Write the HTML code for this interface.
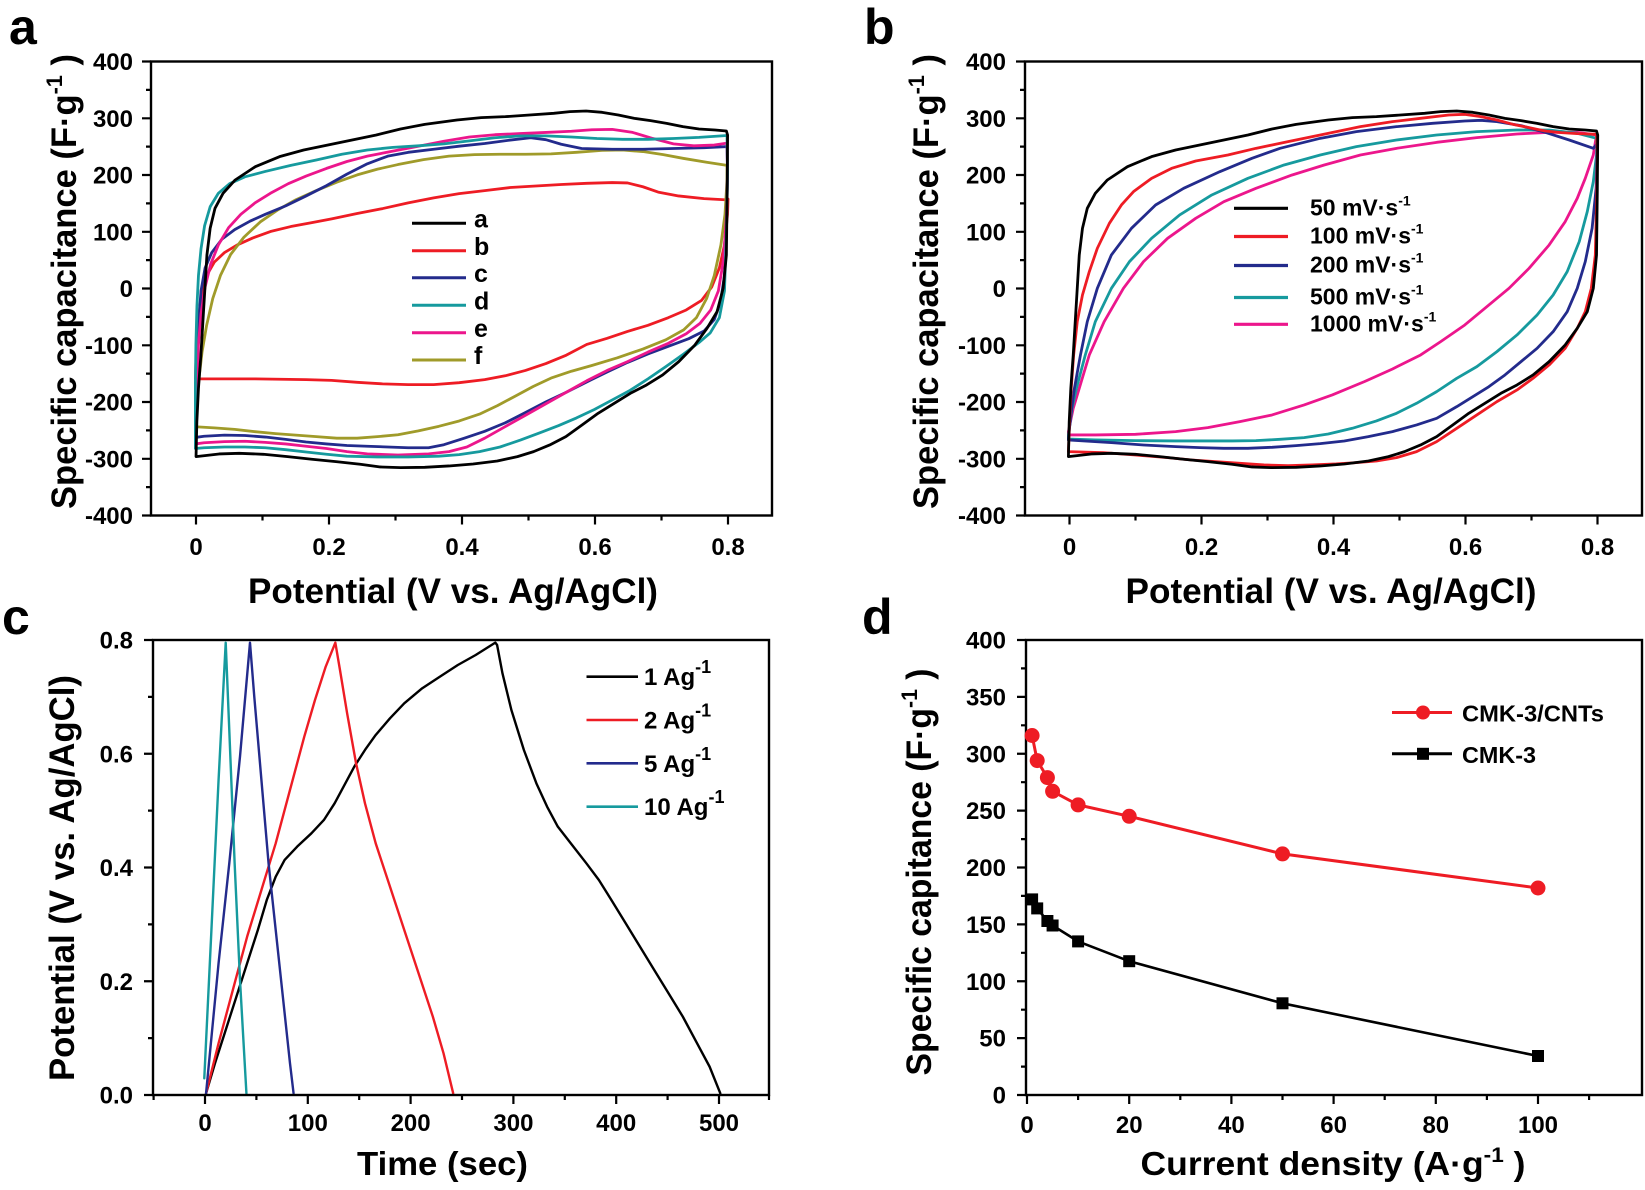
<!DOCTYPE html>
<html><head><meta charset="utf-8"><style>
html,body{margin:0;padding:0;background:#fff;}
svg{display:block;}
text{font-family:"Liberation Sans",Arial,sans-serif;font-weight:bold;fill:#000;}
.tk{font-size:24px;}
.ax{font-size:35px;}
.ax2{font-size:33px;}
.pl{font-size:50px;}
.c{fill:none;stroke-width:2.8;stroke-linejoin:round;stroke-linecap:round;vector-effect:non-scaling-stroke;}
.fr{fill:none;stroke:#000;stroke-width:2.4;}
.ti{fill:none;stroke:#000;stroke-width:2.2;}
</style></head><body>
<svg width="1645" height="1190" viewBox="0 0 1645 1190" xmlns="http://www.w3.org/2000/svg">
<rect width="1645" height="1190" fill="#fff"/>

<!-- ================= PANEL A ================= -->
<g transform="matrix(0.5102,0,0,0.3827,0,0)">
<path class="c" stroke="#ee1c24" d="M383,990 L385,900 L389,830 L395,770 L405,720 L420,685 L440,660 L465,640 L495,622 L530,605 L570,592 L610,582 L650,572 L700,558 L750,545 L800,530 L850,517 L900,506 L950,498 L1000,490 L1050,486 L1100,482 L1150,479 L1200,477 L1230,478 L1260,488 L1290,502 L1330,512 L1380,519 L1420,522 L1427,520 L1426,560 L1420,640 L1410,700 L1395,750 L1375,785 L1345,810 L1310,830 L1270,850 L1230,866 L1190,884 L1150,900 L1110,928 L1070,950 L1030,968 L990,982 L950,992 L900,1000 L850,1005 L800,1005 L750,1003 L700,999 L650,994 L600,992 L550,991 L500,990 L450,990 L400,990 L383,990 Z"/>
<path class="c" stroke="#a09b2a" d="M383,1115 L386,1050 L390,990 L396,920 L405,850 L417,780 L432,720 L452,665 L478,620 L510,580 L545,548 L580,522 L620,498 L660,476 L700,457 L740,442 L780,430 L830,417 L880,408 L930,404 L980,403 L1030,403 L1080,402 L1130,398 L1180,393 L1220,392 L1260,396 L1300,404 L1340,414 L1385,424 L1425,432 L1425,470 L1421,560 L1413,640 L1400,720 L1385,780 L1365,830 L1340,862 L1305,888 L1260,912 L1210,935 L1160,955 L1120,970 L1080,988 L1045,1010 L1010,1035 L975,1060 L940,1082 L900,1100 L860,1114 L820,1126 L780,1136 L740,1141 L700,1145 L660,1145 L620,1141 L580,1137 L540,1133 L500,1128 L460,1122 L420,1118 L383,1115 Z"/>
<path class="c" stroke="#232b8c" d="M383,1145 L384,1050 L386,950 L389,850 L394,760 L402,700 L415,660 L435,625 L460,600 L490,578 L520,560 L560,538 L600,512 L640,485 L680,455 L720,428 L760,408 L800,398 L850,390 L900,382 L950,375 L1000,366 L1040,360 L1070,365 L1100,377 L1140,388 L1200,390 L1260,390 L1320,388 L1380,386 L1425,383 L1426,450 L1424,600 L1420,720 L1412,790 L1400,835 L1380,865 L1350,885 L1310,905 L1270,925 L1230,947 L1190,972 L1150,998 L1110,1025 L1070,1050 L1030,1078 L990,1105 L950,1127 L910,1145 L870,1162 L840,1170 L800,1170 L760,1168 L720,1166 L680,1164 L640,1160 L600,1155 L560,1148 L520,1142 L480,1138 L440,1137 L400,1140 L383,1143 Z"/>
<path class="c" stroke="#ec168c" d="M383,1170 L384,1080 L386,990 L389,900 L394,820 L402,750 L413,690 L428,640 L448,595 L472,560 L500,530 L530,505 L565,480 L600,460 L640,440 L680,422 L720,408 L770,395 L820,382 L870,369 L920,358 L970,352 L1020,349 L1070,346 L1120,343 L1160,339 L1200,338 L1240,346 L1280,362 L1320,376 L1360,381 L1400,379 L1425,374 L1426,450 L1424,560 L1418,680 L1408,760 L1393,810 L1372,845 L1345,872 L1310,897 L1270,920 L1230,945 L1190,968 L1150,995 L1110,1025 L1070,1055 L1030,1085 L990,1115 L950,1145 L915,1168 L880,1180 L840,1186 L780,1189 L720,1186 L680,1180 L640,1172 L600,1166 L560,1160 L520,1156 L480,1153 L440,1154 L400,1157 L383,1160 Z"/>
<path class="c" stroke="#169a9e" d="M383,1000 L384,900 L386,800 L389,720 L394,650 L401,590 L412,540 L428,505 L450,480 L480,462 L520,448 L570,432 L620,418 L670,403 L720,392 L770,385 L820,381 L870,376 L920,368 L970,360 L1020,355 L1070,355 L1120,358 L1170,362 L1220,364 L1270,364 L1320,362 L1370,359 L1425,354 L1426,450 L1424,600 L1420,760 L1410,830 L1392,870 L1370,895 L1340,925 L1305,958 L1270,990 L1235,1020 L1200,1045 L1165,1070 L1130,1092 L1095,1112 L1060,1130 L1020,1150 L980,1168 L940,1180 L900,1188 L860,1192 L800,1194 L740,1194 L680,1192 L640,1187 L600,1181 L560,1175 L520,1170 L480,1168 L440,1168 L400,1170 L383,1172 Z"/>
</g>
<g transform="matrix(0.4033,0,0,0.3333,142.4,55)">
<path class="c" stroke="#000" d="M133,1205 L135,1100 L139,1000 L145,900 L150,800 L155,700 L160,600 L168,520 L180,460 L200,415 L230,375 L280,335 L340,305 L400,285 L460,270 L520,255 L580,240 L640,222 L700,208 L780,195 L840,188 L900,185 L960,180 L1020,175 L1060,170 L1100,168 L1140,172 L1180,180 L1220,190 L1260,197 L1300,205 L1340,215 L1380,222 L1420,225 L1448,228 L1451,240 L1450,400 L1448,600 L1440,700 L1425,770 L1400,820 L1370,870 L1330,920 L1290,960 L1250,990 L1210,1015 L1170,1045 L1130,1075 L1090,1110 L1050,1145 L1010,1170 L970,1190 L930,1205 L880,1218 L820,1227 L760,1233 L700,1237 L640,1238 L590,1236 L540,1228 L480,1220 L420,1213 L360,1205 L300,1198 L240,1195 L190,1197 L133,1205 Z"/>
</g>
<rect class="fr" x="151" y="61.5" width="621" height="454"/>
<path class="ti" d="M142,61.5H151M142,118.3H151M142,175H151M142,231.8H151M142,288.5H151M142,345.3H151M142,402H151M142,458.8H151M142,515.5H151M146,89.9H151M146,146.6H151M146,203.4H151M146,260.1H151M146,316.9H151M146,373.6H151M146,430.4H151M146,487.1H151M196,515.5V524.5M329,515.5V524.5M462,515.5V524.5M595,515.5V524.5M728,515.5V524.5M262.5,515.5V520.5M395.5,515.5V520.5M528.5,515.5V520.5M661.5,515.5V520.5"/>
<g class="tk" text-anchor="end">
<text x="133" y="70">400</text><text x="133" y="126.8">300</text><text x="133" y="183.5">200</text><text x="133" y="240.3">100</text><text x="133" y="297">0</text><text x="133" y="353.8">-100</text><text x="133" y="410.5">-200</text><text x="133" y="467.3">-300</text><text x="133" y="524">-400</text>
</g>
<g class="tk" text-anchor="middle">
<text x="196" y="555">0</text><text x="329" y="555">0.2</text><text x="462" y="555">0.4</text><text x="595" y="555">0.6</text><text x="728" y="555">0.8</text>
</g>
<text class="ax" x="453" y="603" text-anchor="middle" textLength="410" lengthAdjust="spacingAndGlyphs">Potential (V  vs. Ag/AgCl)</text>
<text class="ax" x="76" y="281.5" text-anchor="middle" transform="rotate(-90 76 281.5)" textLength="455" lengthAdjust="spacingAndGlyphs">Specific capacitance (F·g<tspan font-size="22" dy="-14">-1</tspan><tspan dy="14"> )</tspan></text>
<text class="pl" x="9" y="44">a</text>
<!-- legend a -->
<g stroke-width="3">
<line x1="412" y1="223.3" x2="466" y2="223.3" stroke="#000"/>
<line x1="412" y1="250.7" x2="466" y2="250.7" stroke="#ee1c24"/>
<line x1="412" y1="277.7" x2="466" y2="277.7" stroke="#232b8c"/>
<line x1="412" y1="305.3" x2="466" y2="305.3" stroke="#169a9e"/>
<line x1="412" y1="332.7" x2="466" y2="332.7" stroke="#ec168c"/>
<line x1="412" y1="360" x2="466" y2="360" stroke="#a09b2a"/>
</g>
<g font-size="25">
<text x="474" y="227.5">a</text><text x="474" y="255">b</text><text x="474" y="282">c</text><text x="474" y="309.5">d</text><text x="474" y="337">e</text><text x="474" y="364">f</text>
</g>

<!-- ================= PANEL B ================= -->
<g transform="matrix(0.4016,0,0,0.3333,1015,55)">
<path class="c" stroke="#ec168c" d="M133,1130 L145,1060 L160,1000 L185,900 L222,800 L270,700 L320,620 L380,550 L450,490 L520,440 L600,400 L690,360 L770,330 L860,300 L950,280 L1050,262 L1150,248 L1250,237 L1330,232 L1400,232 L1448,240 L1440,300 L1420,370 L1400,430 L1370,500 L1330,570 L1280,640 L1230,700 L1170,760 L1120,810 L1060,860 L1010,900 L940,942 L870,980 L790,1020 L720,1050 L640,1080 L560,1100 L480,1118 L400,1130 L300,1138 L200,1140 L133,1140 Z"/>
<path class="c" stroke="#169a9e" d="M133,1140 L142,1060 L153,1000 L175,900 L200,800 L240,700 L285,620 L340,550 L410,480 L490,420 L580,370 L670,330 L760,300 L850,275 L950,255 L1050,240 L1150,230 L1250,225 L1330,225 L1400,235 L1448,250 L1448,300 L1440,380 L1425,470 L1405,560 L1375,650 L1340,720 L1300,780 L1250,840 L1200,890 L1150,935 L1100,970 L1050,1010 L1000,1045 L950,1075 L900,1098 L840,1120 L780,1137 L720,1148 L660,1153 L600,1157 L540,1158 L480,1158 L400,1158 L300,1157 L200,1155 L133,1152 Z"/>
<path class="c" stroke="#232b8c" d="M133,1150 L140,1070 L148,1000 L163,900 L180,800 L205,700 L240,600 L290,520 L350,450 L420,400 L510,350 L590,310 L660,280 L760,250 L850,230 L950,215 L1040,205 L1120,198 L1160,196 L1200,200 L1260,212 L1320,232 L1380,255 L1440,280 L1450,265 L1447,400 L1437,520 L1420,620 L1400,700 L1375,770 L1340,830 L1300,880 L1260,920 L1220,960 L1180,995 L1140,1025 L1100,1055 L1050,1090 L1000,1110 L940,1130 L880,1145 L820,1158 L760,1166 L700,1172 L640,1177 L580,1180 L520,1180 L460,1178 L400,1175 L320,1170 L240,1163 L133,1155 Z"/>
<path class="c" stroke="#ee1c24" d="M133,1190 L136,1100 L140,1000 L146,900 L155,800 L168,720 L185,650 L205,580 L235,505 L265,450 L295,410 L340,370 L390,340 L450,318 L530,300 L600,280 L680,260 L760,240 L860,215 L940,200 L1010,190 L1080,180 L1120,178 L1160,185 L1200,195 L1240,208 L1280,218 L1320,228 L1360,233 L1400,236 L1448,238 L1450,300 L1448,450 L1445,600 L1435,700 L1420,770 L1400,820 L1370,880 L1330,930 L1290,970 L1250,1005 L1200,1040 L1150,1080 L1100,1120 L1050,1160 L1000,1190 L950,1208 L900,1218 L850,1223 L800,1227 L740,1230 L680,1232 L620,1230 L560,1225 L500,1220 L440,1215 L380,1208 L300,1200 L220,1193 L133,1190 Z"/>
<path class="c" stroke="#000" d="M133,1205 L135,1100 L139,1000 L145,900 L150,800 L155,700 L160,600 L168,520 L180,460 L200,415 L230,375 L280,335 L340,305 L400,285 L460,270 L520,255 L580,240 L640,222 L700,208 L780,195 L840,188 L900,185 L960,180 L1020,175 L1060,170 L1100,168 L1140,172 L1180,180 L1220,190 L1260,197 L1300,205 L1340,215 L1380,222 L1420,225 L1448,228 L1451,240 L1450,400 L1448,600 L1440,700 L1425,770 L1400,820 L1370,870 L1330,920 L1290,960 L1250,990 L1210,1015 L1170,1045 L1130,1075 L1090,1110 L1050,1145 L1010,1170 L970,1190 L930,1205 L880,1218 L820,1227 L760,1233 L700,1237 L640,1238 L590,1236 L540,1228 L480,1220 L420,1213 L360,1205 L300,1198 L240,1195 L190,1197 L133,1205 Z"/>
</g>
<rect class="fr" x="1025" y="61.5" width="617" height="454"/>
<path class="ti" d="M1016,61.5H1025M1016,118.3H1025M1016,175H1025M1016,231.8H1025M1016,288.5H1025M1016,345.3H1025M1016,402H1025M1016,458.8H1025M1016,515.5H1025M1020,89.9H1025M1020,146.6H1025M1020,203.4H1025M1020,260.1H1025M1020,316.9H1025M1020,373.6H1025M1020,430.4H1025M1020,487.1H1025M1069.5,515.5V524.5M1201.5,515.5V524.5M1333.5,515.5V524.5M1465.5,515.5V524.5M1597.5,515.5V524.5M1135.5,515.5V520.5M1267.5,515.5V520.5M1399.5,515.5V520.5M1531.5,515.5V520.5"/>
<g class="tk" text-anchor="end">
<text x="1006" y="70">400</text><text x="1006" y="126.8">300</text><text x="1006" y="183.5">200</text><text x="1006" y="240.3">100</text><text x="1006" y="297">0</text><text x="1006" y="353.8">-100</text><text x="1006" y="410.5">-200</text><text x="1006" y="467.3">-300</text><text x="1006" y="524">-400</text>
</g>
<g class="tk" text-anchor="middle">
<text x="1069.5" y="555">0</text><text x="1201.5" y="555">0.2</text><text x="1333.5" y="555">0.4</text><text x="1465.5" y="555">0.6</text><text x="1597.5" y="555">0.8</text>
</g>
<text class="ax" x="1331" y="603" text-anchor="middle" textLength="411" lengthAdjust="spacingAndGlyphs">Potential (V  vs. Ag/AgCl)</text>
<text class="ax" x="938" y="281.5" text-anchor="middle" transform="rotate(-90 938 281.5)" textLength="455" lengthAdjust="spacingAndGlyphs">Specific capacitance (F·g<tspan font-size="22" dy="-14">-1</tspan><tspan dy="14"> )</tspan></text>
<text class="pl" x="864" y="44">b</text>
<!-- legend b -->
<g stroke-width="3.2">
<line x1="1234" y1="208.3" x2="1288" y2="208.3" stroke="#000"/>
<line x1="1234" y1="236.5" x2="1288" y2="236.5" stroke="#ee1c24"/>
<line x1="1234" y1="265.5" x2="1288" y2="265.5" stroke="#232b8c"/>
<line x1="1234" y1="297.5" x2="1288" y2="297.5" stroke="#169a9e"/>
<line x1="1234" y1="324.3" x2="1288" y2="324.3" stroke="#ec168c"/>
</g>
<g font-size="23">
<text x="1310" y="215.3">50 mV·s<tspan font-size="14" dy="-10">-1</tspan></text>
<text x="1310" y="243.5">100 mV·s<tspan font-size="14" dy="-10">-1</tspan></text>
<text x="1310" y="272.5">200 mV·s<tspan font-size="14" dy="-10">-1</tspan></text>
<text x="1310" y="304.5">500 mV·s<tspan font-size="14" dy="-10">-1</tspan></text>
<text x="1310" y="331.3">1000 mV·s<tspan font-size="14" dy="-10">-1</tspan></text>
</g>

<!-- ================= PANEL C ================= -->
<g transform="matrix(0.3571,0,0,0.3333,190,630)">
<path class="c" style="stroke-width:2.4" stroke="#000" d="M45,1390 L70,1300 L100,1200 L130,1100 L160,1000 L190,900 L215,810 L240,740 L265,690 L300,650 L340,610 L375,570 L405,520 L430,470 L460,410 L490,360 L520,315 L560,265 L600,220 L650,175 L700,140 L750,105 L800,75 L855,38 L860,45 L875,130 L900,240 L935,360 L970,460 L1000,530 L1030,590 L1070,645 L1110,700 L1145,750 L1180,810 L1220,880 L1260,950 L1300,1020 L1340,1090 L1380,1160 L1420,1240 L1455,1310 L1485,1390"/>
<path class="c" style="stroke-width:2.4" stroke="#ee1c24" d="M45,1390 L80,1240 L120,1080 L160,920 L200,780 L240,640 L280,480 L320,320 L350,210 L380,110 L407,38 L420,120 L440,250 L465,400 L490,520 L520,640 L560,770 L600,900 L640,1030 L680,1160 L710,1270 L737,1390"/>
<path class="c" style="stroke-width:2.4" stroke="#232b8c" d="M45,1390 L80,1000 L110,700 L140,380 L168,38 L180,200 L200,450 L220,700 L240,900 L260,1100 L280,1300 L290,1390"/>
<path class="c" style="stroke-width:2.4" stroke="#169a9e" d="M40,1345 L60,900 L80,450 L100,38 L110,300 L125,700 L140,1050 L158,1390"/>
</g>
<rect class="fr" x="153" y="640" width="616" height="455"/>
<path class="ti" d="M144,1095H153M144,981.25H153M144,867.5H153M144,753.75H153M144,640H153M148,1038.1H153M148,924.4H153M148,810.6H153M148,696.9H153M205,1095V1104M307.8,1095V1104M410.6,1095V1104M513.4,1095V1104M616.2,1095V1104M719,1095V1104M153.6,1095V1100M256.4,1095V1100M359.2,1095V1100M462,1095V1100M564.8,1095V1100M667.6,1095V1100M769,1095V1100"/>
<g class="tk" text-anchor="end">
<text x="133" y="648.5">0.8</text><text x="133" y="762.25">0.6</text><text x="133" y="876">0.4</text><text x="133" y="989.75">0.2</text><text x="133" y="1103.5">0.0</text>
</g>
<g class="tk" text-anchor="middle">
<text x="205" y="1131">0</text><text x="307.8" y="1131">100</text><text x="410.6" y="1131">200</text><text x="513.4" y="1131">300</text><text x="616.2" y="1131">400</text><text x="719" y="1131">500</text>
</g>
<text class="ax2" x="442.5" y="1175" text-anchor="middle" textLength="171" lengthAdjust="spacingAndGlyphs">Time (sec)</text>
<text class="ax" x="74" y="878" text-anchor="middle" transform="rotate(-90 74 878)" textLength="406" lengthAdjust="spacingAndGlyphs">Potential (V  vs. Ag/AgCl)</text>
<text class="pl" x="2" y="634">c</text>
<!-- legend c -->
<g stroke-width="2.6">
<line x1="586.5" y1="676.7" x2="638" y2="676.7" stroke="#000"/>
<line x1="586.5" y1="720" x2="638" y2="720" stroke="#ee1c24"/>
<line x1="586.5" y1="763.3" x2="638" y2="763.3" stroke="#232b8c"/>
<line x1="586.5" y1="806.7" x2="638" y2="806.7" stroke="#169a9e"/>
</g>
<g font-size="24">
<text x="644" y="685.2">1 Ag<tspan font-size="18" dy="-12">-1</tspan></text>
<text x="644" y="728.5">2 Ag<tspan font-size="18" dy="-12">-1</tspan></text>
<text x="644" y="771.8">5 Ag<tspan font-size="18" dy="-12">-1</tspan></text>
<text x="644" y="815.2">10 Ag<tspan font-size="18" dy="-12">-1</tspan></text>
</g>

<!-- ================= PANEL D ================= -->
<rect class="fr" x="1026" y="640" width="616" height="455"/>
<path class="ti" d="M1017,1095H1026M1017,1038.1H1026M1017,981.25H1026M1017,924.4H1026M1017,867.5H1026M1017,810.6H1026M1017,753.75H1026M1017,696.9H1026M1017,640H1026M1021,1066.6H1026M1021,1009.7H1026M1021,952.8H1026M1021,895.9H1026M1021,839.1H1026M1021,782.2H1026M1021,725.3H1026M1021,668.4H1026M1027,1095V1104M1129.2,1095V1104M1231.4,1095V1104M1333.6,1095V1104M1435.8,1095V1104M1538,1095V1104M1078.1,1095V1100M1180.3,1095V1100M1282.5,1095V1100M1384.7,1095V1100M1486.9,1095V1100M1589.1,1095V1100"/>
<polyline fill="none" stroke="#ee1c24" stroke-width="3" stroke-linejoin="round" points="1032.1,735.5 1037.2,760.6 1047.4,777.6 1052.6,791.3 1078.1,804.9 1129.2,816.3 1282.5,853.9 1538,888"/>
<g fill="#ee1c24">
<circle cx="1032.1" cy="735.5" r="7.5"/><circle cx="1037.2" cy="760.6" r="7.5"/><circle cx="1047.4" cy="777.6" r="7.5"/><circle cx="1052.6" cy="791.3" r="7.5"/><circle cx="1078.1" cy="804.9" r="7.5"/><circle cx="1129.2" cy="816.3" r="7.5"/><circle cx="1282.5" cy="853.9" r="7.5"/><circle cx="1538" cy="888" r="7.5"/>
</g>
<polyline fill="none" stroke="#000" stroke-width="2.6" stroke-linejoin="round" points="1032.1,899.4 1037.2,908.4 1047.4,921 1052.6,925.5 1078.1,941.4 1129.2,961.2 1282.5,1003.3 1538,1056"/>
<g fill="#000">
<rect x="1026.1" y="893.4" width="12" height="12"/><rect x="1031.2" y="902.4" width="12" height="12"/><rect x="1041.4" y="915" width="12" height="12"/><rect x="1046.6" y="919.5" width="12" height="12"/><rect x="1072.1" y="935.4" width="12" height="12"/><rect x="1123.2" y="955.2" width="12" height="12"/><rect x="1276.5" y="997.3" width="12" height="12"/><rect x="1532" y="1050" width="12" height="12"/>
</g>
<g class="tk" text-anchor="end">
<text x="1006" y="648.5">400</text><text x="1006" y="705.4">350</text><text x="1006" y="762.25">300</text><text x="1006" y="819.1">250</text><text x="1006" y="876">200</text><text x="1006" y="932.9">150</text><text x="1006" y="989.75">100</text><text x="1006" y="1046.6">50</text><text x="1006" y="1103.5">0</text>
</g>
<g class="tk" text-anchor="middle">
<text x="1027" y="1133">0</text><text x="1129.2" y="1133">20</text><text x="1231.4" y="1133">40</text><text x="1333.6" y="1133">60</text><text x="1435.8" y="1133">80</text><text x="1538" y="1133">100</text>
</g>
<text class="ax2" x="1333" y="1175" text-anchor="middle" textLength="385" lengthAdjust="spacingAndGlyphs">Current density (A·g<tspan font-size="21" dy="-13">-1</tspan><tspan dy="13"> )</tspan></text>
<text class="ax" x="931" y="872" text-anchor="middle" transform="rotate(-90 931 872)" textLength="407" lengthAdjust="spacingAndGlyphs">Specific capitance (F·g<tspan font-size="22" dy="-14">-1</tspan><tspan dy="14"> )</tspan></text>
<text class="pl" x="862" y="634">d</text>
<!-- legend d -->
<line x1="1392" y1="712.5" x2="1452" y2="712.5" stroke="#ee1c24" stroke-width="3"/>
<circle cx="1423" cy="712.5" r="7" fill="#ee1c24"/>
<line x1="1392" y1="753.8" x2="1452" y2="753.8" stroke="#000" stroke-width="3"/>
<rect x="1417" y="747.8" width="12" height="12" fill="#000"/>
<g font-size="23">
<text x="1462" y="721.5" textLength="142" lengthAdjust="spacingAndGlyphs">CMK-3/CNTs</text>
<text x="1462" y="762.8" textLength="74" lengthAdjust="spacingAndGlyphs">CMK-3</text>
</g>
</svg>
</body></html>
